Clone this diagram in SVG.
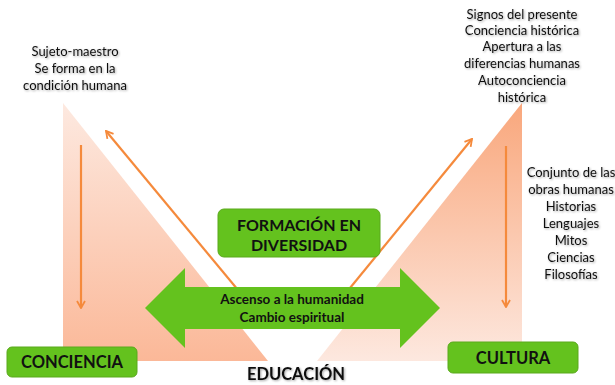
<svg xmlns="http://www.w3.org/2000/svg" width="615" height="385" viewBox="0 0 615 385">
<defs>
<linearGradient id="gl" x1="0" y1="0" x2="0" y2="1">
<stop offset="0" stop-color="#fde9e0"/>
<stop offset="1" stop-color="#fbb898"/>
</linearGradient>
<linearGradient id="gr" x1="0" y1="0" x2="0" y2="1">
<stop offset="0" stop-color="#f9a77c"/>
<stop offset="1" stop-color="#fde8df"/>
</linearGradient>
<marker id="ah" viewBox="0 0 10 10" refX="9" refY="5" markerWidth="10" markerHeight="10" orient="auto" markerUnits="userSpaceOnUse">
<path d="M2,1 L9,5 L2,9" fill="none" stroke="#f58a3c" stroke-width="1.8"/>
</marker>
<filter id="sh" x="-10%" y="-20%" width="120%" height="140%">
<feDropShadow dx="1" dy="1" stdDeviation="1" flood-color="#000" flood-opacity="0.35"/>
</filter>
</defs>
<style>
.t{font-family:Lato,"Open Sans","Liberation Sans",sans-serif;font-size:13px;fill:#111;text-anchor:middle;filter:url(#sh)}
.b{font-family:Lato,"Open Sans","Liberation Sans",sans-serif;font-weight:bold;fill:#111;text-anchor:middle}
.box{fill:#64c21e;stroke:#5aa91c;stroke-width:1}
.ln{stroke:#f58a3c;stroke-width:2.2;fill:none;marker-end:url(#ah)}
</style>
<rect width="615" height="385" fill="#ffffff"/>
<g id="triangles">
<polygon points="63,103 63,361 268,361" fill="url(#gl)"/>
<polygon points="522,103 522,361 317,361" fill="url(#gr)"/>
</g>
<g id="connectors">
<line class="ln" x1="81" y1="145" x2="81" y2="308"/>
<line class="ln" x1="506" y1="146" x2="506" y2="307"/>
<line class="ln" x1="238" y1="290" x2="106" y2="131"/>
<line class="ln" x1="350" y1="288" x2="472" y2="139"/>
</g>
<g id="ascenso">
<polygon points="145,308 185,268 185,287 400,287 400,268 440,308 400,348 400,329 185,329 185,348" fill="#64c21e"/>
<text class="b" x="292" y="304" font-size="13.5">Ascenso a la humanidad</text>
<text class="b" x="292" y="322" font-size="13.5">Cambio espiritual</text>
</g>
<g id="formacion">
<rect class="box" x="218" y="209" width="162" height="48" rx="6"/>
<text class="b" x="299" y="231" font-size="16">FORMACIÓN EN</text>
<text class="b" x="299" y="251" font-size="16">DIVERSIDAD</text>
</g>
<g id="conciencia">
<rect class="box" x="7" y="347" width="130" height="30" rx="5"/>
<text class="b" x="72" y="368" font-size="16.5">CONCIENCIA</text>
</g>
<g id="cultura">
<rect class="box" x="448" y="342" width="130" height="31" rx="5"/>
<text class="b" x="513" y="364" font-size="16.5">CULTURA</text>
</g>
<g id="educacion">
<text class="b" x="296" y="380" font-size="16.5" filter="url(#sh)">EDUCACIÓN</text>
</g>
<g id="sujeto">
<text class="t" x="75" y="56">Sujeto-maestro</text>
<text class="t" x="75" y="73">Se forma en la</text>
<text class="t" x="75" y="90">condición humana</text>
</g>
<g id="signos">
<text class="t" x="522" y="19">Signos del presente</text>
<text class="t" x="522" y="35">Conciencia histórica</text>
<text class="t" x="522" y="51">Apertura a las</text>
<text class="t" x="522" y="68">diferencias humanas</text>
<text class="t" x="522" y="85">Autoconciencia</text>
<text class="t" x="522" y="102">histórica</text>
</g>
<g id="conjunto">
<text class="t" x="571" y="177">Conjunto de las</text>
<text class="t" x="571" y="194">obras humanas</text>
<text class="t" x="571" y="211">Historias</text>
<text class="t" x="571" y="228">Lenguajes</text>
<text class="t" x="571" y="245">Mitos</text>
<text class="t" x="571" y="262">Ciencias</text>
<text class="t" x="571" y="279">Filosofías</text>
</g>
</svg>
